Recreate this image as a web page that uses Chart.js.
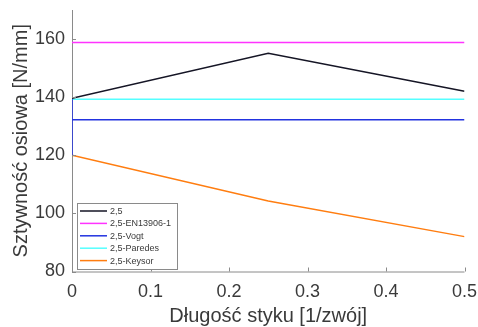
<!DOCTYPE html>
<html>
<head>
<meta charset="utf-8">
<script src="https://cdn.jsdelivr.net/npm/chart.js@4.4.1/dist/chart.umd.min.js"></script>
<style>
html,body{margin:0;padding:0;background:#fff;}
#wrap{width:478px;height:327px;}
</style>
</head>
<body>
<div id="wrap"><canvas id="c" width="478" height="327"></canvas></div>
<script>
// ---- data ----
const xValues      = [0, 0.25, 0.5];
const seriesBase   = [139.6, 155.1, 142.0];   // 2,5
const seriesEN     = [158.8, 158.8, 158.8];   // 2,5-EN13906-1
const vogtX        = [0, 0, 0, 0.25, 0.5];
const seriesVogt   = [139.4, 120.0, 132.2, 132.2, 132.2]; // 2,5-Vogt
const seriesPared  = [139.3, 139.3, 139.3];   // 2,5-Paredes
const seriesKeysor = [120.0, 104.3, 92.0];    // 2,5-Keysor
const seriesLabels = ['2,5', '2,5-EN13906-1', '2,5-Vogt', '2,5-Paredes', '2,5-Keysor'];
const xTicks = [0, 0.1, 0.2, 0.3, 0.4, 0.5];
const yTicks = [80, 100, 120, 140, 160];

const colors = ['#151525', '#ff33ff', '#2233e0', '#55ffff', '#ff7d10'];

function pts(xs, ys){ return ys.map((y,i)=>({x:xs[i], y:y})); }
const seriesData = [
  pts(xValues, seriesBase),
  pts(xValues, seriesEN),
  pts(vogtX, seriesVogt),
  pts(xValues, seriesPared),
  pts(xValues, seriesKeysor)
];

const AXIS_COLOR = '#8a8a8a';
const TEXT_COLOR = '#3a3a3a';
const FONT = "'Liberation Sans', Arial, sans-serif";

const axesAndTicks = {
  id: 'axesAndTicks',
  beforeDatasetsDraw(chart){
    const ctx = chart.ctx, a = chart.chartArea;
    ctx.save();
    ctx.strokeStyle = AXIS_COLOR;
    ctx.lineWidth = 1;
    ctx.beginPath();
    ctx.moveTo(a.left + 0.5, a.top); ctx.lineTo(a.left + 0.5, a.bottom + 0.5);
    ctx.lineTo(a.right, a.bottom + 0.5);
    ctx.stroke();
    ctx.restore();
  },
  afterDatasetsDraw(chart){
    const ctx = chart.ctx, a = chart.chartArea;
    const xs = chart.scales.x, ys = chart.scales.y;
    ctx.save();
    ctx.strokeStyle = AXIS_COLOR;
    ctx.lineWidth = 1;
    ctx.beginPath();
    xs.ticks.forEach(t=>{
      const px = Math.round(xs.getPixelForValue(t.value)) + 0.5;
      ctx.moveTo(px, a.bottom); ctx.lineTo(px, a.bottom - 4);
    });
    ys.ticks.forEach(t=>{
      const py = Math.round(ys.getPixelForValue(t.value)) + 0.5;
      ctx.moveTo(a.left, py); ctx.lineTo(a.left + 4, py);
    });
    ctx.stroke();
    ctx.restore();
  }
};

const boxLegend = {
  id: 'boxLegend',
  afterDraw(chart){
    const ctx = chart.ctx;
    const bx = 77.5, by = 203.5, bw = 100, bh = 66;
    ctx.save();
    ctx.fillStyle = '#fff';
    ctx.fillRect(bx, by, bw, bh);
    ctx.strokeStyle = AXIS_COLOR;
    ctx.lineWidth = 1;
    ctx.strokeRect(bx, by, bw, bh);
    ctx.font = '9px ' + FONT;
    ctx.textBaseline = 'middle';
    ctx.fillStyle = TEXT_COLOR;
    chart.data.datasets.forEach((ds, i)=>{
      const y = 211 + i * 12.4;
      ctx.strokeStyle = ds.borderColor;
      ctx.lineWidth = 1.5;
      ctx.beginPath();
      ctx.moveTo(80, y); ctx.lineTo(107, y);
      ctx.stroke();
      ctx.fillText(ds.label, 110, y + 0.5);
    });
    ctx.restore();
  }
};

new Chart(document.getElementById('c'), {
  type: 'line',
  data: {
    datasets: seriesData.map((d, i)=>({
      label: seriesLabels[i],
      data: d,
      borderColor: colors[i],
      backgroundColor: colors[i],
      borderWidth: 1.5,
      pointRadius: 0,
      tension: 0,
      fill: false
    }))
  },
  options: {
    responsive: false,
    animation: false,
    devicePixelRatio: 1,
    layout: { padding: { left: 0, right: 13.5, top: 10, bottom: 0 } },
    plugins: { legend: { display: false }, tooltip: { enabled: false } },
    scales: {
      x: {
        type: 'linear', min: 0, max: 0.5,
        afterBuildTicks(s){ s.ticks = xTicks.map(v=>({value:v})); },
        afterFit(s){ s.height = 55.5; s.paddingLeft = 0; s.paddingRight = 0; },
        grid: { display: false, drawTicks: false },
        border: { display: false },
        ticks: {
          color: TEXT_COLOR, padding: 10, maxRotation: 0,
          font: { family: FONT, size: 18 },
          callback: v => String(v)
        },
        title: {
          display: true, text: 'Długość styku [1/zwój]',
          color: TEXT_COLOR, font: { family: FONT, size: 20 },
          padding: { top: 0, bottom: -1 }
        }
      },
      y: {
        type: 'linear', min: 80, max: 170,
        afterBuildTicks(s){ s.ticks = yTicks.map(v=>({value:v})); },
        afterFit(s){ s.width = 72; s.paddingTop = 0; s.paddingBottom = 0; },
        grid: { display: false, drawTicks: false },
        border: { display: false },
        ticks: {
          color: TEXT_COLOR, padding: 7,
          font: { family: FONT, size: 18 }
        },
        title: {
          display: true, text: 'Sztywność osiowa [N/mm]',
          color: TEXT_COLOR, font: { family: FONT, size: 20 },
          padding: { top: 9, bottom: 0 }
        }
      }
    }
  },
  plugins: [axesAndTicks, boxLegend]
});
</script>
</body>
</html>
